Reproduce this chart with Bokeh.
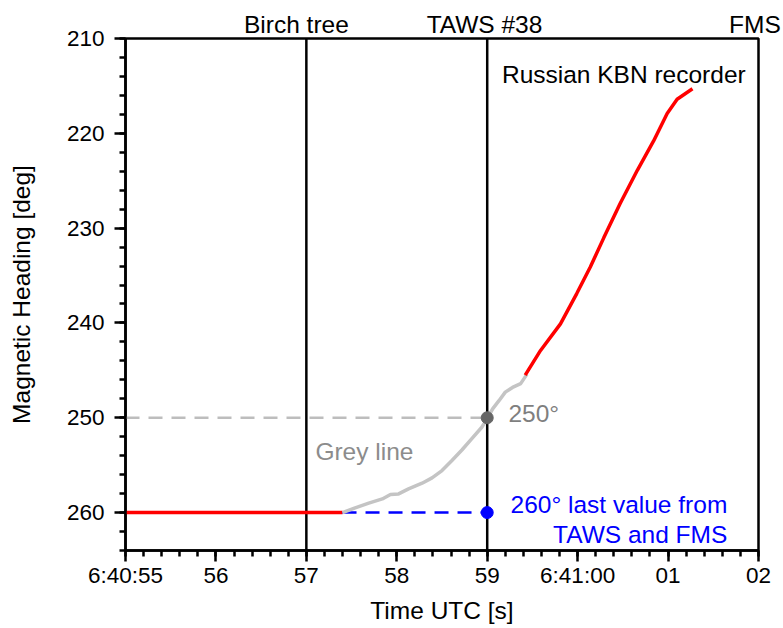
from bokeh.plotting import figure
from bokeh.models import FixedTicker, Span, Label, Range1d, LinearAxis
from bokeh.embed import file_html
from bokeh.resources import INLINE

# ---- data (time in seconds after 6:40:00, heading in deg) ----
red1_t = [55.0, 57.40]
red1_h = [260.0, 260.0]

grey_t = [57.40, 57.54, 57.69, 57.84, 57.93, 58.02, 58.13, 58.28, 58.39, 58.50,
          58.61, 58.72, 58.83, 58.94, 59.00, 59.06, 59.13, 59.20, 59.28, 59.37,
          59.44]
grey_h = [260.0, 259.5, 259.0, 258.56, 258.1, 258.03, 257.5, 256.9, 256.34, 255.57,
          254.5, 253.4, 252.2, 251.0, 250.1, 249.06, 248.2, 247.3, 246.8, 246.4,
          245.4]

red2_t = [59.42, 59.59, 59.81, 59.99, 60.14, 60.29, 60.47, 60.66, 60.84, 60.99,
          61.10, 61.27]
red2_h = [245.5, 242.9, 240.1, 236.9, 234.1, 231.0, 227.4, 223.9, 220.8, 217.9,
          216.4, 215.3]

grey_ref_t = [55.0, 59.0]
grey_ref_h = [250.0, 250.0]
blue_ref_t = [57.40, 59.0]
blue_ref_h = [260.0, 260.0]

grey_dot_t = [59.0]
grey_dot_h = [250.0]
blue_dot_t = [59.0]
blue_dot_h = [260.0]

event_t = [57.0, 59.0]
event_label_t = [56.89, 58.97, 61.96]
event_labels = ["Birch tree", "TAWS #38", "FMS"]

x_ticks = [55, 56, 57, 58, 59, 60, 61, 62]
x_tick_labels = ["6:40:55", "56", "57", "58", "59", "6:41:00", "01", "02"]
y_ticks = [210, 220, 230, 240, 250, 260]

FONT = "Liberation Sans"
ANN_SIZE = "24.5px"

p = figure(width=783, height=628, output_backend="svg", toolbar_location=None,
           x_range=Range1d(55, 62), y_range=Range1d(264, 210),
           min_border_left=125, min_border_right=25, min_border_top=38,
           min_border_bottom=78)
p.background_fill_color = "white"
p.border_fill_color = "white"
p.xgrid.visible = False
p.ygrid.visible = False
p.outline_line_color = "black"
p.outline_line_width = 2.5
p.outline_line_alpha = 1.0

# axes
p.xaxis.ticker = FixedTicker(ticks=x_ticks,
                             minor_ticks=[55 + i * 0.2 for i in range(36)])
p.xaxis.major_label_overrides = {t: l for t, l in zip(x_ticks, x_tick_labels)}
p.yaxis.ticker = FixedTicker(ticks=y_ticks,
                             minor_ticks=[210 + 2 * i for i in range(28)])
for ax in (p.xaxis, p.yaxis):
    ax.axis_line_width = 2.5
    ax.axis_line_color = "black"
    ax.major_tick_line_width = 2.5
    ax.minor_tick_line_width = 2.5
    ax.major_tick_line_color = "black"
    ax.minor_tick_line_color = "black"
    ax.major_tick_in = 0
    ax.major_tick_out = 11
    ax.minor_tick_in = 0
    ax.minor_tick_out = 6
    ax.major_label_text_font = FONT
    ax.major_label_text_font_size = "22.5px"
    ax.major_label_text_color = "black"
    ax.axis_label_text_font = FONT
    ax.axis_label_text_font_size = ANN_SIZE
    ax.axis_label_text_font_style = "normal"
    ax.axis_label_text_color = "black"
p.xaxis.major_label_standoff = 1
p.yaxis.major_label_standoff = 10
p.xaxis.axis_label = "Time UTC [s]"
p.yaxis.axis_label = "Magnetic Heading [deg]"
p.xaxis.axis_label_standoff = 6
p.yaxis.axis_label_standoff = 29

# top axis carrying the event names
top = LinearAxis(ticker=FixedTicker(ticks=event_label_t, minor_ticks=[]),
                 major_label_overrides={t: l for t, l in zip(event_label_t, event_labels)},
                 axis_line_color=None, major_tick_line_color=None,
                 minor_tick_line_color=None, major_tick_out=0, major_tick_in=0,
                 major_label_standoff=1,
                 major_label_text_font=FONT, major_label_text_font_size=ANN_SIZE,
                 major_label_text_color="black")
p.add_layout(top, "above")

# event lines
for t in event_t:
    p.add_layout(Span(location=t, dimension="height", line_color="black",
                      line_width=2.5, level="underlay"))

# reference dashed lines
p.line(grey_ref_t, grey_ref_h, line_color="#BDBDBD", line_width=2.5,
       line_dash="14 9")

# recorder traces
p.line(red1_t, red1_h, line_color="#FF0000", line_width=3.5)
p.line(blue_ref_t, blue_ref_h, line_color="#0000FF", line_width=2.5,
       line_dash="14 9")
p.line(grey_t, grey_h, line_color="#C4C4C4", line_width=3.5)
p.line(red2_t, red2_h, line_color="#FF0000", line_width=3.5)

p.scatter(grey_dot_t, grey_dot_h, size=12, fill_color="#666666",
          line_color="#666666")
p.scatter(blue_dot_t, blue_dot_h, size=12, fill_color="#0000FF",
          line_color="#0000FF")

# annotations
def lab(x, y, text, color="black", align="left"):
    p.add_layout(Label(x=x, y=y, text=text, text_color=color,
                       text_font=FONT, text_font_size=ANN_SIZE,
                       text_align=align, text_baseline="alphabetic",
                       y_offset=9))

lab(59.163, 214.78, "Russian KBN recorder")
lab(59.235, 250.45, "250°", color="#7F7F7F")
lab(57.10, 254.5, "Grey line", color="#8C8C8C")
lab(61.655, 260.14, "260° last value from", color="#0000FF", align="right")
lab(61.655, 263.3, "TAWS and FMS", color="#0000FF", align="right")

open("out.html", "w").write(file_html(p, INLINE))
